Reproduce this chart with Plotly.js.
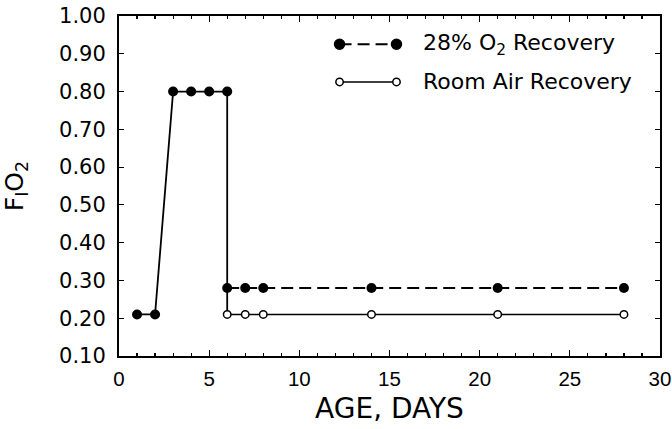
<!DOCTYPE html>
<html>
<head>
<meta charset="utf-8">
<script src="https://cdn.plot.ly/plotly-3.0.1.min.js"></script>
<style>html,body{margin:0;padding:0;background:#fff;}#chart{width:672px;height:429px;}</style>
</head>
<body>
<div id="chart"></div>
<script>
// Data
const commonDays = [1, 2, 3, 4, 5, 6];
const commonFiO2 = [0.21, 0.21, 0.80, 0.80, 0.80, 0.80];
const recoveryDays = [6, 7, 8, 14, 21, 28];
const o2Recovery = [0.28, 0.28, 0.28, 0.28, 0.28, 0.28];
const airRecovery = [0.21, 0.21, 0.21, 0.21, 0.21, 0.21];
const seriesNames = ['28% O<sub>2</sub> Recovery', 'Room Air Recovery'];
const xTickVals = [0, 5, 10, 15, 20, 25, 30];
const yTickVals = [0.10, 0.20, 0.30, 0.40, 0.50, 0.60, 0.70, 0.80, 0.90, 1.00];

const FONT = 'DejaVu Sans, Arial, sans-serif';
const XFONT = 'Liberation Sans, Arial, sans-serif';
const DASH = '12px,6px';

const traces = [
  { // drop from 0.80 at day 6 to the recovery levels
    x: [commonDays[commonDays.length - 1], recoveryDays[0]],
    y: [commonFiO2[commonFiO2.length - 1], airRecovery[0]],
    mode: 'lines', line: {color: '#000', width: 1.8},
    showlegend: false, hoverinfo: 'skip'
  },
  {
    x: commonDays, y: commonFiO2,
    mode: 'lines+markers',
    line: {color: '#000', width: 1.8},
    marker: {symbol: 'circle', size: 10, color: '#000'},
    showlegend: false
  },
  {
    x: recoveryDays, y: o2Recovery, name: seriesNames[0],
    mode: 'lines+markers',
    line: {color: '#000', width: 2, dash: DASH},
    marker: {symbol: 'circle', size: 10, color: '#000'},
    showlegend: false
  },
  {
    x: recoveryDays, y: airRecovery, name: seriesNames[1],
    mode: 'lines+markers',
    line: {color: '#000', width: 1.5},
    marker: {symbol: 'circle', size: 7.5, color: '#fff', line: {color: '#000', width: 1.5}},
    showlegend: false
  }
];

// Legend key (paper coordinates): markers at both ends of a line sample
const legRows = [0.917, 0.806];
const legX0 = 0.4077, legX1 = 0.5129, legTextX = 0.558;
const shapes = [];
const annotations = [];
legRows.forEach((ry, i) => {
  const filled = i === 0;
  shapes.push({type: 'line', xref: 'paper', yref: 'paper', x0: legX0, x1: legX1, y0: ry, y1: ry,
    line: {color: '#000', width: filled ? 2 : 1.5, dash: filled ? DASH : 'solid'}});
  [legX0, legX1].forEach(cx => {
    const r = filled ? 5 : 3.7;
    shapes.push({type: 'circle', xref: 'paper', yref: 'paper',
      xsizemode: 'pixel', ysizemode: 'pixel', xanchor: cx, yanchor: ry,
      x0: -r, x1: r, y0: -r, y1: r,
      fillcolor: filled ? '#000' : '#fff', line: {color: '#000', width: 1.5}});
  });
  annotations.push({xref: 'paper', yref: 'paper', x: legTextX, y: ry, xanchor: 'left', yanchor: 'middle',
    text: seriesNames[i], showarrow: false, font: {family: FONT, size: 22, color: '#000'}});
});

const layout = {
  width: 672, height: 429,
  margin: {l: 119, r: 12, t: 16, b: 73},
  paper_bgcolor: '#fff', plot_bgcolor: '#fff',
  font: {family: FONT, color: '#000', size: 21},
  showlegend: false,
  shapes: shapes,
  annotations: annotations,
  xaxis: {
    range: [0, 30], tickvals: xTickVals, ticktext: xTickVals.map(String),
    ticks: 'inside', ticklen: 6, tickwidth: 1.2, tickcolor: '#000',
    minor: {dtick: 1, ticks: 'inside', ticklen: 3, tickwidth: 1.2, tickcolor: '#000'},
    showline: true, linewidth: 2, linecolor: '#000', mirror: 'allticks',
    showgrid: false, zeroline: false, ticklabeloverflow: 'allow', ticklabelstandoff: 3,
    tickfont: {family: XFONT, size: 20.5},
    title: {text: 'AGE, DAYS', font: {family: FONT, size: 28}, standoff: 10}
  },
  yaxis: {
    range: [0.10, 1.00], tickvals: yTickVals, ticktext: yTickVals.map(v => v.toFixed(2)),
    ticks: 'inside', ticklen: 5, tickwidth: 1.2, tickcolor: '#000',
    showline: true, linewidth: 2, linecolor: '#000', mirror: 'allticks',
    showgrid: false, zeroline: false, ticklabelstandoff: 7,
    tickfont: {family: FONT, size: 21},
    title: {text: 'F<sub>I</sub>O<sub>2</sub>', font: {family: FONT, size: 25}, standoff: 30}
  }
};

Plotly.newPlot('chart', traces, layout, {displayModeBar: false, staticPlot: true});
</script>
</body>
</html>
